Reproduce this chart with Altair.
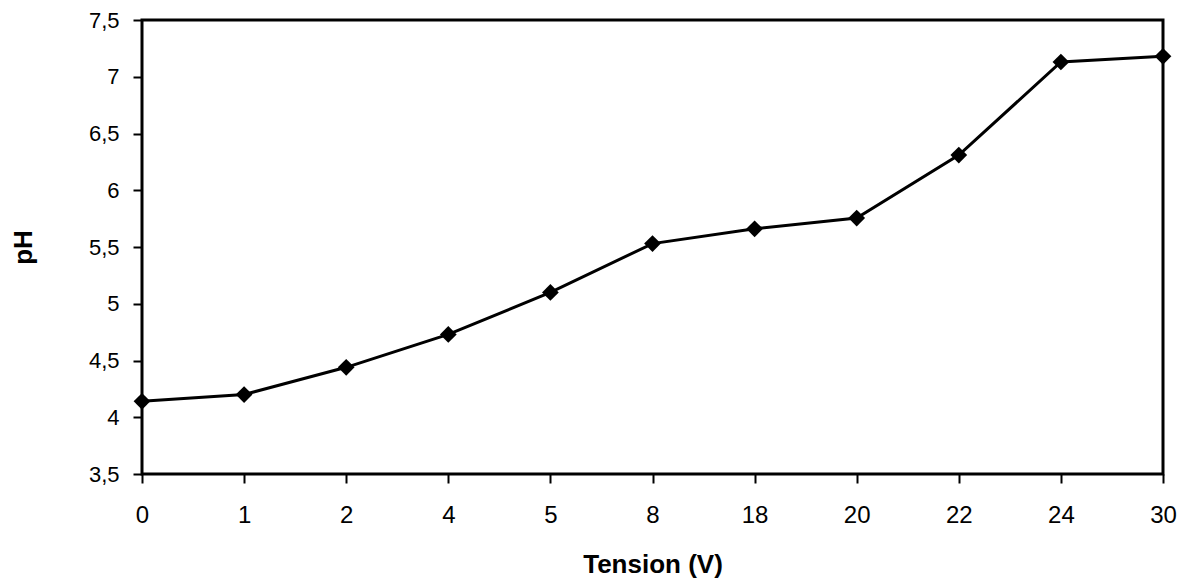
import altair as alt
import pandas as pd

tension = ["0", "1", "2", "4", "5", "8", "18", "20", "22", "24", "30"]
ph = [4.14, 4.20, 4.44, 4.73, 5.10, 5.53, 5.66, 5.755, 6.31, 7.13, 7.18]

df = pd.DataFrame({"Tension": tension, "pH": ph})

FONT = "Liberation Sans"

x = alt.X(
    "Tension:O",
    sort=tension,
    scale=alt.Scale(type="point", padding=0),
    axis=alt.Axis(
        title="Tension (V)",
        labelAngle=0,
        labelFontSize=24,
        labelFont=FONT,
        labelColor="black",
        labelPadding=20,
        tickColor="black",
        tickSize=9,
        tickWidth=2,
        domain=False,
        titleFont=FONT,
        titleFontSize=26,
        titleFontWeight="bold",
        titleColor="black",
        titlePadding=24,
    ),
)
y = alt.Y(
    "pH:Q",
    scale=alt.Scale(domain=[3.5, 7.5], nice=False, zero=False),
    axis=alt.Axis(
        title="pH",
        values=[3.5, 4, 4.5, 5, 5.5, 6, 6.5, 7, 7.5],
        labelExpr="replace(toString(datum.value), '.', ',')",
        labelFontSize=22,
        labelFont=FONT,
        labelColor="black",
        labelPadding=14,
        tickColor="black",
        tickSize=9,
        tickWidth=2,
        grid=False,
        domain=False,
        titleFont=FONT,
        titleFontSize=26,
        titleFontWeight="bold",
        titleColor="black",
        titlePadding=52,
    ),
)

line = alt.Chart(df).mark_line(color="black", strokeWidth=3).encode(x=x, y=y)
pts = alt.Chart(df).mark_point(
    shape="diamond", filled=True, color="black", size=280, opacity=1
).encode(x=x, y=y)

chart = (
    alt.layer(line, pts)
    .properties(
        width=1021,
        height=454,
        autosize=alt.AutoSizeParams(type="none"),
        padding={"left": 134, "top": 12, "right": 14, "bottom": 106},
    )
    .configure(background="white")
    .configure_view(stroke="black", strokeWidth=3)
)

chart.save("out.html", embed_options={"renderer": "svg", "actions": False})
